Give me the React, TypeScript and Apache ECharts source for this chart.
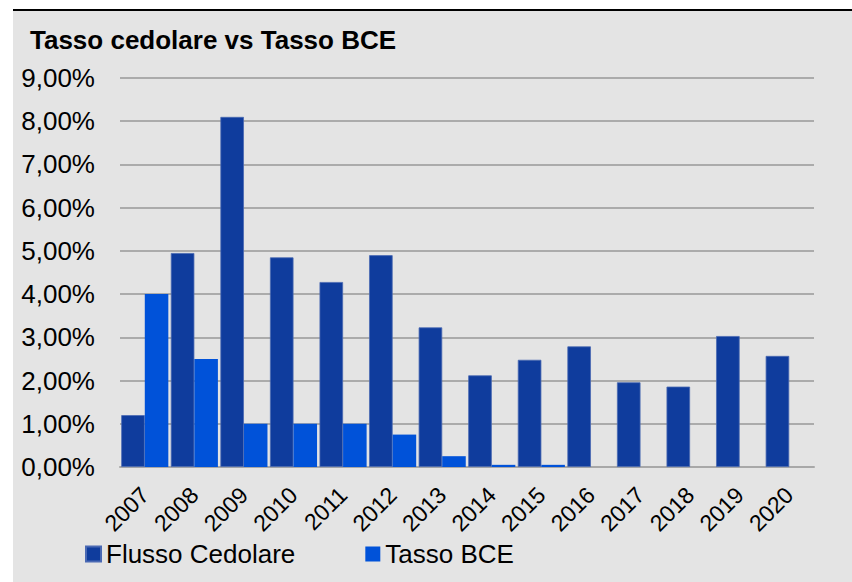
import React, { useEffect, useRef } from "react";
import * as echarts from "echarts";

const categories = ["2007", "2008", "2009", "2010", "2011", "2012", "2013", "2014", "2015", "2016", "2017", "2018", "2019", "2020"];
const flussoCedolare = [1.2, 4.95, 8.1, 4.85, 4.28, 4.9, 3.23, 2.12, 2.48, 2.79, 1.96, 1.86, 3.03, 2.57];
const tassoBCE = [4.0, 2.5, 1.0, 1.0, 1.0, 0.75, 0.25, 0.05, 0.05, 0, 0, 0, 0, 0];
const yTicks = { min: 0, max: 9, interval: 1 };

const FONT = "'Liberation Sans', Arial, Helvetica, sans-serif";

export default function App() {
  const ref = useRef<HTMLDivElement>(null);
  useEffect(() => {
    if (!ref.current) return;
    const chart = echarts.init(ref.current, null, { renderer: "svg" });
    chart.setOption({
      animation: false,
      backgroundColor: "#ffffff",
      graphic: [
        { type: "rect", z: -10, shape: { x: 13, y: 11, width: 852 - 13, height: 582 - 11 }, style: { fill: "#e4e4e4" } },
        { type: "rect", z: -10, shape: { x: 13, y: 9, width: 852 - 13, height: 2 }, style: { fill: "#000000" } },
      ],
      title: {
        text: "Tasso cedolare vs Tasso BCE",
        left: 25,
        top: 22,
        textStyle: { fontFamily: FONT, fontSize: 26, fontWeight: "bold", color: "#000" },
      },
      legend: {
        left: 80,
        top: 536,
        itemWidth: 15,
        itemHeight: 15,
        itemGap: 70,
        icon: "rect",
        textStyle: { fontFamily: FONT, fontSize: 26, color: "#000", padding: [0, 0, 0, 0] },
        data: ["Flusso Cedolare", "Tasso BCE"],
      },
      grid: { left: 120, right: 38, top: 78, bottom: 115, containLabel: false },
      xAxis: {
        type: "category",
        data: categories,
        axisLine: { show: true, lineStyle: { color: "#a8a8a8", width: 2 } },
        axisTick: { show: false },
        axisLabel: { rotate: 45, margin: 24, interval: 0, fontFamily: FONT, fontSize: 23, color: "#000" },
      },
      yAxis: {
        type: "value",
        min: yTicks.min,
        max: yTicks.max,
        interval: yTicks.interval,
        axisLine: { show: false },
        axisTick: { show: false },
        splitLine: { lineStyle: { color: "#999999", width: 1.5 } },
        axisLabel: {
          margin: 25,
          fontFamily: FONT,
          fontSize: 26,
          color: "#000",
          formatter: (v: number) => v.toFixed(2).replace(".", ",") + "%",
        },
      },
      series: [
        {
          name: "Flusso Cedolare",
          type: "bar",
          data: flussoCedolare,
          barGap: "0%",
          barCategoryGap: "5%",
          itemStyle: { color: "#0f3c9d", borderColor: "#4a69b3", borderWidth: 0.8 },
        },
        {
          name: "Tasso BCE",
          type: "bar",
          data: tassoBCE,
          barGap: "0%",
          barCategoryGap: "5%",
          itemStyle: { color: "#0052d9", borderWidth: 0 },
        },
      ],
    });
    return () => chart.dispose();
  }, []);
  return <div ref={ref} style={{ position: "fixed", left: 0, top: 0, width: 852, height: 582 }} />;
}
